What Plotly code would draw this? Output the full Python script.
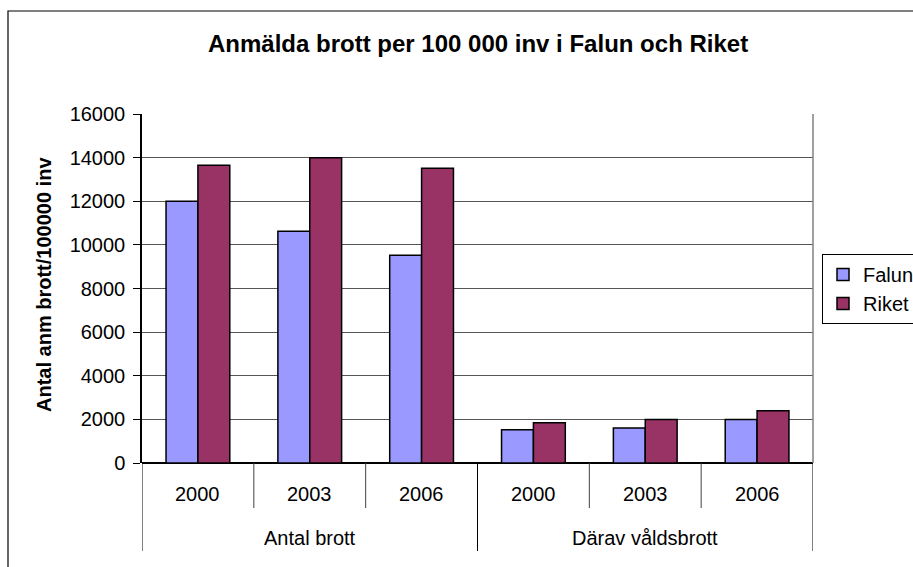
import plotly.graph_objects as go

groups = ["Antal brott", "Antal brott", "Antal brott", "Därav våldsbrott", "Därav våldsbrott", "Därav våldsbrott"]
years = ["2000", "2003", "2006", "2000", "2003", "2006"]
falun = [12000, 10630, 9530, 1520, 1610, 1990]
riket = [13650, 13990, 13510, 1840, 2000, 2390]
y_ticks = [0, 2000, 4000, 6000, 8000, 10000, 12000, 14000, 16000]
y_tick_labels = [str(v) for v in y_ticks]

cats = [f"{g} {y}" for g, y in zip(groups, years)]
FONT = "Liberation Sans, Arial, sans-serif"

fig = go.Figure()
fig.add_trace(go.Bar(x=cats, y=falun, name="Falun", marker=dict(color="#9999FF", line=dict(color="black", width=1.5))))
fig.add_trace(go.Bar(x=cats, y=riket, name="Riket", marker=dict(color="#993366", line=dict(color="black", width=1.5))))

# canvas is a little wider than the window so the legend is cut at the right edge as in the reference
W, H = 960, 567
L, R, T, B = 142, 960 - 813, 114, 104
pw, ph = W - L - R, H - T - B

def px(X):
    return (X - L) / pw

def py(Y):
    return (H - B - Y) / ph

annotations = []
for c, yr in zip(cats, years):
    annotations.append(dict(x=c, y=py(494), xref="x", yref="paper", text=yr, showarrow=False,
                            font=dict(size=20, color="black", family=FONT), yanchor="middle"))
for i, g in enumerate(["Antal brott", "Därav våldsbrott"]):
    annotations.append(dict(x=1 + 3 * i, y=py(538), xref="x", yref="paper", text=g, showarrow=False,
                            font=dict(size=20, color="black", family=FONT), yanchor="middle"))
annotations.append(dict(x=px(477.5), y=py(44), xref="paper", yref="paper",
                        text="<b>Anmälda brott per 100 000 inv i Falun och Riket</b>", showarrow=False,
                        font=dict(size=24, color="black", family=FONT), yanchor="middle"))
annotations.append(dict(x=px(44), y=py(285), xref="paper", yref="paper", textangle=-90,
                        text="<b>Antal anm brott/100000 inv</b>", showarrow=False,
                        font=dict(size=20, color="black", family=FONT), xanchor="center", yanchor="middle"))

shapes = []
for b in [0.5, 1.5, 3.5, 4.5]:
    shapes.append(dict(type="line", xref="x", yref="paper", x0=b, x1=b, y0=0, y1=py(508),
                       line=dict(color="#404040", width=1)))
for b in [-0.5, 2.5, 5.5]:
    shapes.append(dict(type="line", xref="x", yref="paper", x0=b, x1=b, y0=0, y1=py(551),
                       line=dict(color="black", width=1)))
# plot area right edge
shapes.append(dict(type="line", xref="paper", yref="paper", x0=1, x1=1, y0=0, y1=1,
                   line=dict(color="#808080", width=1.5)))
# outer chart border
shapes.append(dict(type="rect", xref="paper", yref="paper", x0=px(8), x1=px(950), y0=py(580), y1=py(11),
                   line=dict(color="black", width=1.2), layer="below"))

fig.update_layout(
    width=W, height=H,
    margin=dict(l=L, r=R, t=T, b=B),
    paper_bgcolor="white", plot_bgcolor="white",
    barmode="group", bargap=0.43, bargroupgap=0,
    font=dict(family=FONT, size=20, color="black"),
    showlegend=True,
    legend=dict(x=px(822), y=py(254), xanchor="left", yanchor="top",
                bordercolor="black", borderwidth=1, bgcolor="white",
                font=dict(size=20, family=FONT, color="black"), tracegroupgap=0,
                itemwidth=30),
    annotations=annotations,
    shapes=shapes,
    xaxis=dict(showticklabels=False, ticks="", showgrid=False, showline=False, zeroline=False,
               range=[-0.5, 5.5], fixedrange=True),
    yaxis=dict(range=[0, 16000], tickvals=y_ticks, ticktext=y_tick_labels, ticks="outside", ticklen=7,
               tickcolor="black",
               showline=True, linecolor="black", linewidth=1.5, showgrid=True, gridcolor="#555555",
               gridwidth=1, zeroline=True, zerolinecolor="black", zerolinewidth=1.5,
               tickfont=dict(size=20, family=FONT, color="black"), ticklabelstandoff=4,
               fixedrange=True),
)

fig.write_html("out.html", config={"displayModeBar": False})

with open("out.html", "r", encoding="utf-8") as f:
    html = f.read()
html = html.replace("<body>", '<body style="margin:0;padding:0;overflow:hidden">', 1)
with open("out.html", "w", encoding="utf-8") as f:
    f.write(html)
